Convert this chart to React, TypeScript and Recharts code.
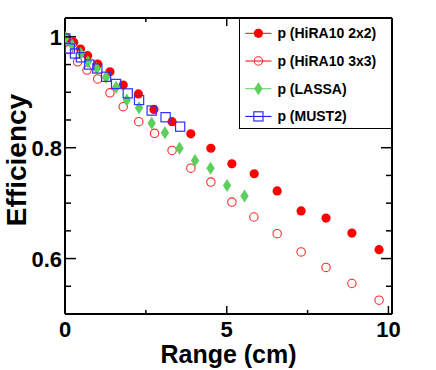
import React from "react";
import {
  ScatterChart,
  Scatter,
  XAxis,
  YAxis,
  Legend,
  Label,
} from "recharts";

const FONT = "'Liberation Sans', Arial, Helvetica, sans-serif";

// HiRA10 2x2 (filled red circles)
const hira2x2Range = [0.05, 0.27, 0.48, 0.7, 1.01, 1.39, 1.8, 2.27, 2.75, 3.31, 3.89, 4.51, 5.16, 5.85, 6.56, 7.3, 8.07, 8.87, 9.71];
const hira2x2Eff = [0.998, 0.99, 0.978, 0.966, 0.951, 0.937, 0.913, 0.897, 0.869, 0.847, 0.825, 0.799, 0.771, 0.753, 0.722, 0.686, 0.673, 0.646, 0.616];

// HiRA10 3x3 (open red circles)
const hira3x3Range = [0.03, 0.12, 0.39, 0.68, 1.01, 1.39, 1.8, 2.28, 2.77, 3.31, 3.89, 4.51, 5.16, 5.84, 6.56, 7.3, 8.07, 8.87, 9.71];
const hira3x3Eff = [0.995, 0.977, 0.955, 0.94, 0.924, 0.899, 0.874, 0.847, 0.826, 0.795, 0.763, 0.738, 0.702, 0.675, 0.645, 0.612, 0.584, 0.555, 0.525];

// LASSA (green diamonds)
const lassaRange = [0.02, 0.22, 0.49, 0.71, 0.98, 1.27, 1.58, 1.91, 2.29, 2.68, 3.09, 3.54, 4.02, 4.5, 5.01, 5.55];
const lassaEff = [0.999, 0.985, 0.97, 0.955, 0.943, 0.927, 0.909, 0.886, 0.872, 0.844, 0.827, 0.799, 0.777, 0.763, 0.732, 0.713];

// MUST2 (open blue squares)
const must2Range = [0.01, 0.15, 0.31, 0.49, 0.75, 1.0, 1.27, 1.58, 1.94, 2.29, 2.68, 3.11, 3.56];
const must2Eff = [0.997, 0.979, 0.97, 0.963, 0.95, 0.943, 0.928, 0.915, 0.898, 0.886, 0.867, 0.855, 0.838];

const xTicks = [0, 2.5, 5, 7.5, 10];
const xMajor = [0, 5, 10];
const yTicks = [0.55, 0.6, 0.65, 0.7, 0.75, 0.8, 0.85, 0.9, 0.95, 1];
const yMajor = [0.6, 0.8, 1];

const xDomain = [0, 10.11];
const yDomain = [0.5, 1.034];

const toPoints = (xs: number[], ys: number[]) =>
  xs.map((x, i) => ({ x, y: ys[i] }));

type Kind = "filled" | "open" | "diamond" | "square";

const series: { name: string; kind: Kind; color: string; data: { x: number; y: number }[] }[] = [
  { name: "p (HiRA10 2x2)", kind: "filled", color: "#ff0000", data: toPoints(hira2x2Range, hira2x2Eff) },
  { name: "p (HiRA10 3x3)", kind: "open", color: "#ff0000", data: toPoints(hira3x3Range, hira3x3Eff) },
  { name: "p (LASSA)", kind: "diamond", color: "#5ccf5c", data: toPoints(lassaRange, lassaEff) },
  { name: "p (MUST2)", kind: "square", color: "#0000ff", data: toPoints(must2Range, must2Eff) },
];

function Marker({ kind, cx, cy }: { kind: Kind; cx: number; cy: number }) {
  if (kind === "filled") return <circle cx={cx} cy={cy} r={4.6} fill="#ff0000" />;
  if (kind === "open")
    return <circle cx={cx} cy={cy} r={4.2} fill="none" stroke="#ff2a2a" strokeWidth={1.1} />;
  if (kind === "diamond")
    return (
      <polygon
        points={`${cx},${cy - 6.5} ${cx + 4.2},${cy} ${cx},${cy + 6.5} ${cx - 4.2},${cy}`}
        fill="#5ccf5c"
      />
    );
  return (
    <rect x={cx - 4.6} y={cy - 4.6} width={9.2} height={9.2} fill="none" stroke="#3030ff" strokeWidth={1.2} />
  );
}

const isMajor = (list: number[], v: number) => list.some((m) => Math.abs(m - v) < 1e-6);

const tickText = {
  fontSize: 22,
  fontWeight: "bold" as const,
  fontFamily: FONT,
  fill: "#000",
};

// ticks point inward, like the ROOT frame
function BottomTick({ x, y, payload }: any) {
  const major = isMajor(xMajor, payload.value);
  return (
    <g>
      <line x1={x} x2={x} y1={y} y2={y - (major ? 8 : 4)} stroke="#000" strokeWidth={1.5} />
      {major && (
        <text x={x} y={y + 23} textAnchor="middle" {...tickText}>
          {payload.value}
        </text>
      )}
    </g>
  );
}

function TopTick({ x, y, payload }: any) {
  const major = isMajor(xMajor, payload.value);
  return <line x1={x} x2={x} y1={y} y2={y + (major ? 8 : 4)} stroke="#000" strokeWidth={1.5} />;
}

function LeftTick({ x, y, payload }: any) {
  const major = isMajor(yMajor, payload.value);
  return (
    <g>
      <line x1={x} x2={x + (major ? 11 : 6)} y1={y} y2={y} stroke="#000" strokeWidth={1.5} />
      {major && (
        <text x={x - 3} y={y + 8} textAnchor="end" {...tickText}>
          {payload.value}
        </text>
      )}
    </g>
  );
}

function RightTick({ x, y, payload }: any) {
  const major = isMajor(yMajor, payload.value);
  return <line x1={x} x2={x - (major ? 11 : 6)} y1={y} y2={y} stroke="#000" strokeWidth={1.5} />;
}

function LegendBox() {
  const rowH = 27.7;
  return (
    <div
      style={{
        width: 153,
        height: 111,
        boxSizing: "border-box",
        border: "1px solid #000",
        background: "#fff",
      }}
    >
      <svg width={151} height={109} style={{ display: "block" }}>
        {series.map((s, i) => {
          const cy = 14.3 + i * rowH;
          return (
            <g key={s.name}>
              <line x1={5.4} x2={31.4} y1={cy} y2={cy} stroke={s.color} strokeWidth={1} />
              <Marker kind={s.kind} cx={18.4} cy={cy} />
              <text x={37.4} y={cy + 5} fontSize={14} fontWeight="bold" fontFamily={FONT} fill="#000">
                {s.name}
              </text>
            </g>
          );
        })}
      </svg>
    </div>
  );
}

export default function App() {
  return (
    <div style={{ position: "absolute", left: 0, top: 0, background: "#fff" }}>
      <ScatterChart width={436} height={370} margin={{ top: 0, right: 0, bottom: 0, left: 0 }}>
        <XAxis
          type="number"
          dataKey="x"
          domain={xDomain}
          ticks={xTicks}
          interval={0}
          allowDataOverflow
          height={56}
          tickSize={0}
          tickMargin={0}
          tickLine={false}
          axisLine={{ stroke: "#000", strokeWidth: 2 }}
          tick={<BottomTick />}
        >
          <Label
            content={({ viewBox }: any) => (
              <text
                x={viewBox.x + viewBox.width / 2}
                y={viewBox.y + 49}
                textAnchor="middle"
                fontSize={25}
                fontWeight="bold"
                fontFamily={FONT}
                fill="#000"
              >
                Range (cm)
              </text>
            )}
          />
        </XAxis>
        <XAxis
          xAxisId="top"
          orientation="top"
          type="number"
          dataKey="x"
          domain={xDomain}
          ticks={xTicks}
          interval={0}
          allowDataOverflow
          height={18}
          tickSize={0}
          tickMargin={0}
          tickLine={false}
          axisLine={{ stroke: "#000", strokeWidth: 2 }}
          tick={<TopTick />}
        />
        <YAxis
          type="number"
          dataKey="y"
          domain={yDomain}
          ticks={yTicks}
          interval={0}
          allowDataOverflow
          width={65}
          tickSize={0}
          tickMargin={0}
          tickLine={false}
          axisLine={{ stroke: "#000", strokeWidth: 2 }}
          tick={<LeftTick />}
        >
          <Label
            content={({ viewBox }: any) => {
              const cx = 26;
              const cy = viewBox.y + viewBox.height / 2 - 6;
              return (
                <text
                  x={cx}
                  y={cy}
                  transform={`rotate(-90 ${cx} ${cy})`}
                  textAnchor="middle"
                  fontSize={28}
                  fontWeight="bold"
                  fontFamily={FONT}
                  fill="#000"
                >
                  Efficiency
                </text>
              );
            }}
          />
        </YAxis>
        <YAxis
          yAxisId="right"
          orientation="right"
          type="number"
          dataKey="y"
          domain={yDomain}
          ticks={yTicks}
          interval={0}
          allowDataOverflow
          width={44}
          tickSize={0}
          tickMargin={0}
          tickLine={false}
          axisLine={{ stroke: "#000", strokeWidth: 2 }}
          tick={<RightTick />}
        />
        {series.map((s) => (
          <Scatter
            key={s.name}
            name={s.name}
            data={s.data}
            isAnimationActive={false}
            shape={(p: any) => <Marker kind={s.kind} cx={p.cx} cy={p.cy} />}
          />
        ))}
        <Legend
          layout="vertical"
          align="center"
          verticalAlign="middle"
          wrapperStyle={{ left: 239, top: 18, width: 153, height: 111 }}
          content={() => <LegendBox />}
        />
      </ScatterChart>
    </div>
  );
}
